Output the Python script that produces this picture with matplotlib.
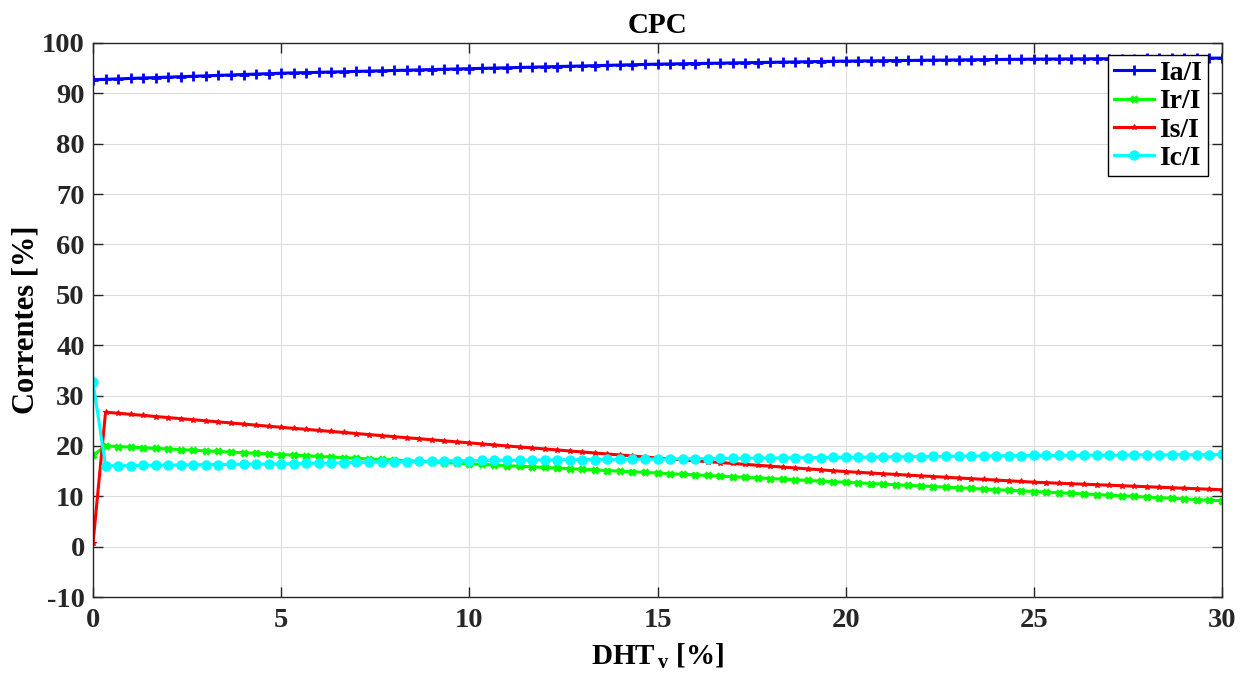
import numpy as np
import matplotlib
matplotlib.use("Agg")
import matplotlib.pyplot as plt

# ---- data ----
dht = np.linspace(0, 30, 91)

ia = [92.70, 92.79, 92.87, 92.96, 93.05, 93.13, 93.22, 93.31, 93.39, 93.48, 93.57, 93.65, 93.74, 93.83, 93.91, 94.00,
      94.06, 94.12, 94.18, 94.24, 94.30, 94.36, 94.42, 94.48, 94.54, 94.60, 94.66, 94.72, 94.78, 94.84, 94.90,
      94.96, 95.02, 95.08, 95.14, 95.20, 95.26, 95.32, 95.38, 95.44, 95.50, 95.56, 95.62, 95.68, 95.74, 95.80,
      95.84, 95.88, 95.92, 95.96, 96.00, 96.04, 96.08, 96.12, 96.16, 96.20, 96.24, 96.28, 96.32, 96.36, 96.40,
      96.43, 96.45, 96.48, 96.51, 96.53, 96.56, 96.59, 96.61, 96.64, 96.67, 96.69, 96.72, 96.75, 96.77, 96.80,
      96.81, 96.83, 96.84, 96.85, 96.87, 96.88, 96.89, 96.91, 96.92, 96.93, 96.95, 96.96, 96.97, 96.99, 97.00]

ir = [18.10, 20.00, 19.88, 19.76, 19.63, 19.51, 19.39, 19.27, 19.15, 19.02, 18.90, 18.78, 18.66, 18.53, 18.41, 18.29,
      18.17, 18.04, 17.92, 17.80, 17.68, 17.55, 17.43, 17.31, 17.19, 17.06, 16.94, 16.82, 16.70, 16.57, 16.45,
      16.33, 16.21, 16.08, 15.96, 15.84, 15.72, 15.60, 15.47, 15.35, 15.23, 15.11, 14.98, 14.86, 14.74, 14.62,
      14.49, 14.37, 14.25, 14.13, 14.01, 13.88, 13.76, 13.64, 13.52, 13.39, 13.27, 13.15, 13.03, 12.90, 12.78,
      12.66, 12.54, 12.42, 12.29, 12.17, 12.05, 11.93, 11.80, 11.68, 11.56, 11.44, 11.31, 11.19, 11.07, 10.95,
      10.82, 10.70, 10.58, 10.46, 10.34, 10.21, 10.09, 9.97, 9.85, 9.72, 9.60, 9.48, 9.36, 9.23, 9.11]

is_ = [0.65, 26.70, 26.49, 26.27, 26.06, 25.84, 25.63, 25.41, 25.20, 24.99, 24.77, 24.56, 24.34, 24.13, 23.91, 23.70,
       23.49, 23.29, 23.08, 22.87, 22.67, 22.46, 22.25, 22.05, 21.84, 21.63, 21.43, 21.22, 21.01, 20.81, 20.60,
       20.40, 20.20, 20.00, 19.80, 19.60, 19.40, 19.20, 19.00, 18.80, 18.60, 18.40, 18.20, 18.00, 17.80, 17.60,
       17.42, 17.24, 17.06, 16.88, 16.70, 16.52, 16.34, 16.16, 15.98, 15.80, 15.62, 15.44, 15.26, 15.08, 14.90,
       14.76, 14.62, 14.48, 14.34, 14.20, 14.06, 13.92, 13.78, 13.64, 13.50, 13.36, 13.22, 13.08, 12.94, 12.80,
       12.70, 12.60, 12.50, 12.40, 12.30, 12.20, 12.10, 12.00, 11.90, 11.80, 11.70, 11.60, 11.50, 11.40, 11.30]

ic = [32.70, 16.05, 16.08, 16.11, 16.14, 16.16, 16.19, 16.22, 16.25, 16.28, 16.31, 16.34, 16.36, 16.39, 16.42, 16.45,
      16.49, 16.54, 16.58, 16.62, 16.67, 16.71, 16.75, 16.80, 16.84, 16.88, 16.93, 16.97, 17.01, 17.06, 17.10,
      17.12, 17.14, 17.16, 17.18, 17.20, 17.22, 17.24, 17.26, 17.28, 17.30, 17.32, 17.34, 17.36, 17.38, 17.40,
      17.42, 17.45, 17.47, 17.49, 17.52, 17.54, 17.56, 17.59, 17.61, 17.63, 17.66, 17.68, 17.70, 17.73, 17.75,
      17.77, 17.80, 17.82, 17.84, 17.87, 17.89, 17.91, 17.94, 17.96, 17.98, 18.01, 18.03, 18.05, 18.08, 18.10,
      18.11, 18.13, 18.14, 18.15, 18.17, 18.18, 18.19, 18.21, 18.22, 18.23, 18.25, 18.26, 18.27, 18.29, 18.30]

labels = ["Ia/I", "Ir/I", "Is/I", "Ic/I"]
xticks = [0, 5, 10, 15, 20, 25, 30]
yticks = [-10, 0, 10, 20, 30, 40, 50, 60, 70, 80, 90, 100]

# ---- style ----
plt.rcParams['font.family'] = ['Liberation Serif', 'DejaVu Serif']
plt.rcParams['font.weight'] = 'bold'
plt.rcParams['axes.unicode_minus'] = False
plt.rcParams['mathtext.fontset'] = 'custom'
plt.rcParams['mathtext.rm'] = 'Liberation Serif:bold'
plt.rcParams['mathtext.bf'] = 'Liberation Serif:bold'
plt.rcParams['mathtext.it'] = 'Liberation Serif:bold'

fig = plt.figure(figsize=(12.5, 6.81), dpi=100)
ax = fig.add_axes([0.0744, 0.1233, 0.9032, 0.8136])

ax.plot(dht, ia, color='#0000ff', lw=2.2, marker='+', ms=7, mew=2.0, label=labels[0])
ax.plot(dht, ir, color='#00ff00', lw=2.2, marker='x', ms=4.5, mew=2.4, label=labels[1])
ax.plot(dht, is_, color='#ff0000', lw=2.2, marker='*', ms=4, mew=0.8, label=labels[2])
ax.plot(dht, ic, color='#00ffff', lw=2.2, marker='o', ms=6.5, label=labels[3])

ax.set_xlim(0, 30)
ax.set_ylim(-10, 100)
ax.set_xticks(xticks)
ax.set_yticks(yticks)
ax.tick_params(direction='in', length=7, width=1.0, labelsize=20.5, colors='#262626',
               top=True, right=True)
ax.tick_params(axis='x', pad=8)
ax.tick_params(axis='y', pad=6)
for lab in ax.get_xticklabels() + ax.get_yticklabels():
    lab.set_fontweight('bold')
    lab.set_color('#262626')
for s in ax.spines.values():
    s.set_color('#262626')
    s.set_linewidth(1.0)
ax.grid(True, color='#dcdcdc', lw=0.8)
ax.set_axisbelow(True)

ax.set_title('CPC', fontsize=21, fontweight='bold', pad=7)
ax.set_xlabel(r'DHT$_{\,\mathbf{v}}$ [%]', fontsize=21, fontweight='bold', labelpad=6)
ax.set_ylabel('Correntes [%]', fontsize=22, fontweight='bold', labelpad=1)

leg = ax.legend(loc='upper right', bbox_to_anchor=(0.9876, 0.978), borderaxespad=0,
                fontsize=20, frameon=True, fancybox=False,
                edgecolor='black', framealpha=1, handlelength=1.45, borderpad=0.2,
                labelspacing=0.1, handletextpad=0.2)
leg.get_frame().set_linewidth(1.0)
for t in leg.get_texts():
    t.set_fontweight('bold')

fig.savefig('out.png', dpi=100)
